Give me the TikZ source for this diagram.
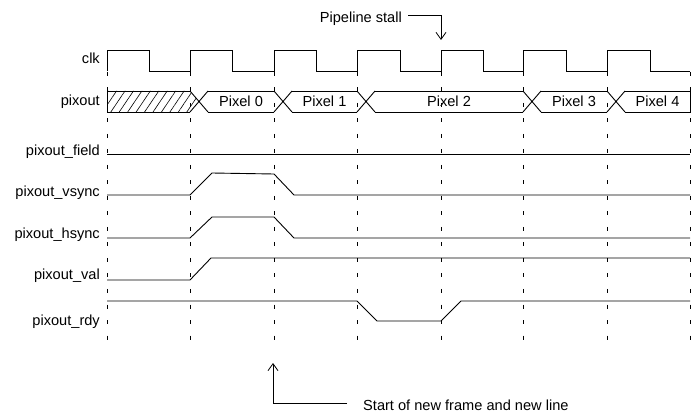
\documentclass[tikz,border=0pt]{standalone}
\usepackage{fontspec}
\setmainfont{Liberation Sans}
\usetikzlibrary{calc,patterns.meta,arrows.meta}

\begin{document}
\begin{tikzpicture}[x=1pt,y=-1pt,
  signal/.style={line width=0.9pt},
  raster/.style={line width=0.9pt,dash pattern=on 4pt off 11.5pt},
  signame/.style={anchor=east,inner sep=0pt,text height=10.5pt,text depth=3pt,font=\fontsize{14.6}{17}\selectfont},
  pixname/.style={inner sep=0pt,font=\fontsize{14.6}{17}\selectfont},
  hint/.style={-{Straight Barb[length=7pt,width=10pt]},line width=0.8pt}] % 1pt = 1 Bildpunkt
\useasboundingbox (0,0) rectangle (699,414);

%TAKTRASTER (gestrichelt, von links)
\draw [raster] (107,72) -- (107,350);
\draw [raster] (190,72) -- (190,350);
\draw [raster] (274,72) -- (274,350);
\draw [raster] (357,72) -- (357,350);
\draw [raster] (441,72) -- (441,350);
\draw [raster] (523,72) -- (523,350);
\draw [raster] (607,72) -- (607,350);
\draw [raster] (690,72) -- (690,350);

%SIGNAL clk
\node [signame] (clk) at (100,59.5) {clk};
\draw [signal] (107,71) -- (107,50) -- (149,50) -- (149,71) -- (190,71) -- (190,50) -- (232,50) -- (232,71)
  -- (274,71) -- (274,50) -- (316,50) -- (316,71) -- (357,71) -- (357,50) -- (400,50) -- (400,71)
  -- (441,71) -- (441,50) -- (483,50) -- (483,71) -- (523,71) -- (523,50) -- (566,50) -- (566,71)
  -- (607,71) -- (607,50) -- (650,50) -- (650,71) -- (690,71);

%SIGNAL pixout
\node [signame] (pixout) at (100,101.5) {pixout};
\fill [pattern={Lines[angle=56,distance=7pt,line width=0.6pt]}] (107,91) -- (190,91) -- (199,101.5) -- (190,112) -- (107,112) -- cycle;
\draw [signal] (190,91) -- (107,91) -- (107,112) -- (190,112);
\draw [signal] (190,91) -- (208,112) (190,112) -- (208,91);
\draw [signal] (208,91) -- (274,91) (208,112) -- (274,112);
\draw [signal] (274,91) -- (292,112) (274,112) -- (292,91);
\draw [signal] (292,91) -- (357,91) (292,112) -- (357,112);
\draw [signal] (357,91) -- (375,112) (357,112) -- (375,91);
\draw [signal] (375,91) -- (523,91) (375,112) -- (523,112);
\draw [signal] (523,91) -- (541,112) (523,112) -- (541,91);
\draw [signal] (541,91) -- (607,91) (541,112) -- (607,112);
\draw [signal] (607,91) -- (625,112) (607,112) -- (625,91);
\draw [signal] (625,91) -- (690,91) -- (690,112) -- (625,112);
\node [pixname] (pix0) at ($(208,101.5)!0.5!(274,101.5)$) {Pixel 0};
\node [pixname] (pix1) at ($(292,101.5)!0.5!(357,101.5)$) {Pixel 1};
\node [pixname] (pix2) at ($(375,101.5)!0.5!(523,101.5)$) {Pixel 2};
\node [pixname] (pix3) at ($(541,101.5)!0.5!(607,101.5)$) {Pixel 3};
\node [pixname] (pix4) at ($(625,101.5)!0.5!(690,101.5)$) {Pixel 4};

%SIGNAL pixout_field
\node [signame] (field) at (100,152) {pixout\_field};
\draw [signal] (107,154) -- (690,154);

%SIGNAL pixout_vsync
\node [signame] (vsync) at (100,193) {pixout\_vsync};
\draw [signal] (107,195) -- (190,195) -- (212,173) -- (274,174) -- (294,195) -- (690,195);

%SIGNAL pixout_hsync
\node [signame] (hsync) at (100,235) {pixout\_hsync};
\draw [signal] (107,238) -- (190,238) -- (212,217) -- (274,217) -- (294,238) -- (690,238);

%SIGNAL pixout_val
\node [signame] (val) at (100,276) {pixout\_val};
\draw [signal] (107,280) -- (190,280) -- (211,258) -- (690,258);

%SIGNAL pixout_rdy
\node [signame] (rdy) at (100,321.5) {pixout\_rdy};
\draw [signal] (107,301) -- (357,301) -- (377,321) -- (441,321) -- (461,301) -- (690,301);

%HINWEIS OBEN
\node [pixname,anchor=east] (stall) at (402,19) {Pipeline stall};
\coordinate (stalltip) at (441,40);
\draw [hint] ([xshift=6pt,yshift=4pt]stall.east) -| (stalltip);

%HINWEIS UNTEN
\node [pixname,anchor=west] (frame) at (363,405) {Start of new frame and new line};
\coordinate (frametip) at (273,363);
\draw [hint] ([xshift=-16pt,yshift=2pt]frame.west) -| (frametip);

\end{tikzpicture}
\end{document}
